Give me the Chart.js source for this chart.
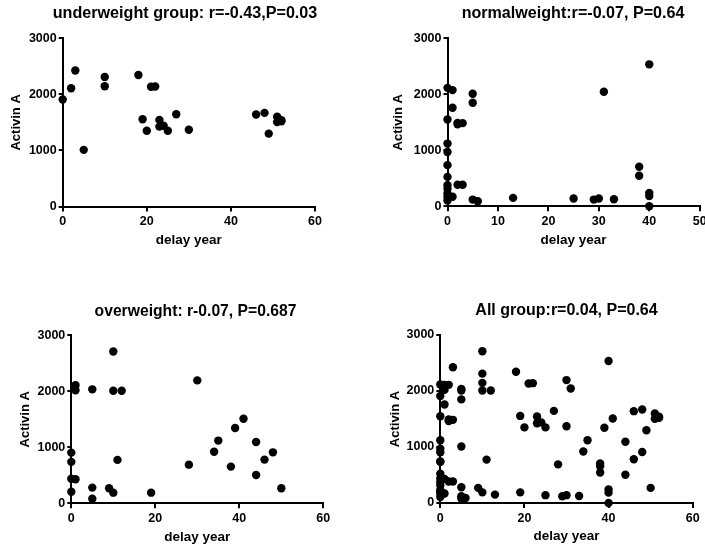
<!DOCTYPE html>
<html>
<head>
<title>Activin A vs delay year</title>
<script src="https://cdn.jsdelivr.net/npm/chart.js@4/dist/chart.umd.min.js"></script>
<style>
  html, body { margin: 0; padding: 0; background: #fff; overflow: hidden; width: 705px; height: 546px; }
  .panel { position: absolute; }
</style>
</head>
<body>
<div class="panel" id="p1"><canvas id="c1"></canvas></div>
<div class="panel" id="p2"><canvas id="c2"></canvas></div>
<div class="panel" id="p3"><canvas id="c3"></canvas></div>
<div class="panel" id="p4"><canvas id="c4"></canvas></div>
<script>
// values (delay year, Activin A)
const underX = [0, 2, 3, 5, 10, 10, 18, 19, 20, 21, 22, 23, 23, 24, 25, 27, 30, 46, 48, 49, 51, 51, 52, 52];
const underY = [1910, 2110, 2425, 1010, 2310, 2145, 2345, 1555, 1350, 2135, 2140, 1545, 1425, 1440, 1350, 1645, 1370, 1640, 1670, 1300, 1600, 1505, 1540, 1520];

const normalX = [0, 1, 5, 5, 1, 0, 2, 2, 3, 0, 0, 0, 0, 0, 0, 0, 0, 0, 2, 3, 1, 5, 6, 13, 25, 29, 30, 31, 33, 38, 38, 40, 40, 40, 40];
const normalY = [2115, 2075, 2010, 1850, 1760, 1550, 1465, 1490, 1485, 1120, 970, 735, 525, 375, 315, 230, 165, 105, 385, 385, 170, 120, 90, 150, 140, 120, 140, 2045, 125, 705, 545, 2535, 240, 185, 0];

const overX = [0, 0, 0, 1, 0, 1, 1, 5, 5, 5, 9, 10, 10, 10, 11, 12, 19, 28, 30, 34, 35, 38, 39, 41, 44, 44, 46, 48, 50];
const overY = [905, 740, 440, 430, 205, 2110, 2020, 2035, 280, 80, 270, 190, 2710, 2010, 775, 2010, 190, 690, 2195, 920, 1120, 655, 1345, 1510, 1095, 505, 780, 910, 270];

const allX = underX.concat(normalX, overX);
const allY = underY.concat(normalY, overY);

const titles = [
  'underweight group: r=-0.43,P=0.03',
  'normalweight:r=-0.07, P=0.64',
  'overweight: r-0.07, P=0.687',
  'All group:r=0.04, P=0.64'
];
const yTicks = [0, 1000, 2000, 3000];
const xTicksA = [0, 20, 40, 60];
const xTicksB = [0, 10, 20, 30, 40, 50];

Chart.defaults.font.family = '"Liberation Sans", Arial, sans-serif';
Chart.defaults.color = '#000';

const toPoints = (xs, ys) => xs.map((x, i) => ({x: x, y: ys[i]}));

const X_H = 45.6;

function makeChart(n, xs, ys, title, xTicks, box) {
  const wrap = document.getElementById('p' + n);
  // canvas is centred on the title so the full-width title lands where it should
  const width = Math.round(2 * (box.titleX - box.left));
  const height = Math.ceil(box.plotB - box.top + X_H);
  const rightGap = width - (box.plotR - box.left);
  wrap.style.left = box.left + 'px';
  wrap.style.top = box.top + 'px';
  wrap.style.width = width + 'px';
  wrap.style.height = height + 'px';

  const titleLH = box.titleSize * 1.2;
  const tTop = box.titleY - box.top - titleLH / 2;
  const tBot = (box.plotT - box.top) - tTop - titleLH;

  new Chart(document.getElementById('c' + n), {
    type: 'scatter',
    data: {
      datasets: [{
        data: toPoints(xs, ys),
        backgroundColor: '#000',
        borderWidth: 0,
        pointRadius: 4.2,
        pointHoverRadius: 4.2,
        clip: false
      }]
    },
    options: {
      responsive: true,
      maintainAspectRatio: false,
      animation: false,
      layout: {
        padding: {left: 0, top: 0, right: 0, bottom: height - (box.plotB - box.top) - X_H}
      },
      plugins: {
        legend: {display: false},
        tooltip: {enabled: false},
        title: {
          display: true,
          text: title,
          fullSize: true,
          font: {size: box.titleSize, weight: 'bold'},
          padding: {top: tTop, bottom: tBot}
        }
      },
      scales: {
        x: {
          type: 'linear',
          min: xTicks[0],
          max: xTicks[xTicks.length - 1],
          afterBuildTicks: s => { s.ticks = xTicks.map(v => ({value: v})); },
          afterFit: s => { s.height = X_H; s.paddingLeft = 0; s.paddingRight = rightGap; },
          border: {color: '#000', width: 2},
          grid: {drawOnChartArea: false, drawTicks: true, tickLength: 5, color: '#000', lineWidth: 2},
          ticks: {font: {size: 12.5, weight: 'bold'}, padding: 3, maxRotation: 0, autoSkip: false, callback: v => String(v)},
          title: {display: true, text: 'delay year', font: {size: 13.5, weight: 'bold'}, padding: {top: 0, bottom: 4}}
        },
        y: {
          type: 'linear',
          min: 0,
          max: 3000,
          afterBuildTicks: s => { s.ticks = yTicks.map(v => ({value: v})); },
          afterFit: s => { s.width = box.plotL - box.left; s.paddingTop = 0; s.paddingBottom = 0; },
          border: {color: '#000', width: 2},
          grid: {drawOnChartArea: false, drawTicks: true, tickLength: 4, color: '#000', lineWidth: 2},
          ticks: {font: {size: 12.5, weight: 'bold'}, padding: 2, autoSkip: false, callback: v => String(v)},
          title: {display: true, text: 'Activin A', font: {size: 13, weight: 'bold'}, padding: {top: box.yTitleX - box.left - 7.8, bottom: 0}}
        }
      }
    }
  });
}

makeChart(1, underX, underY, titles[0], xTicksA,
  {left: 0, top: 0, plotL: 62.7, plotR: 315, plotT: 38.3, plotB: 206.5, titleX: 185, titleY: 14, yTitleX: 16, titleSize: 16.15});
makeChart(2, normalX, normalY, titles[1], xTicksB,
  {left: 380, top: 0, plotL: 447.5, plotR: 699.7, plotT: 38.3, plotB: 206.3, titleX: 573, titleY: 14, yTitleX: 398, titleSize: 16.1});
makeChart(3, overX, overY, titles[2], xTicksA,
  {left: 0, top: 290, plotL: 71.3, plotR: 323.3, plotT: 335.3, plotB: 503.3, titleX: 195.5, titleY: 311.5, yTitleX: 25, titleSize: 15.7});
makeChart(4, allX, allY, titles[3], xTicksA,
  {left: 380, top: 290, plotL: 440.3, plotR: 692.7, plotT: 335, plotB: 503, titleX: 566.5, titleY: 310.5, yTitleX: 395.3, titleSize: 16});
</script>
</body>
</html>
